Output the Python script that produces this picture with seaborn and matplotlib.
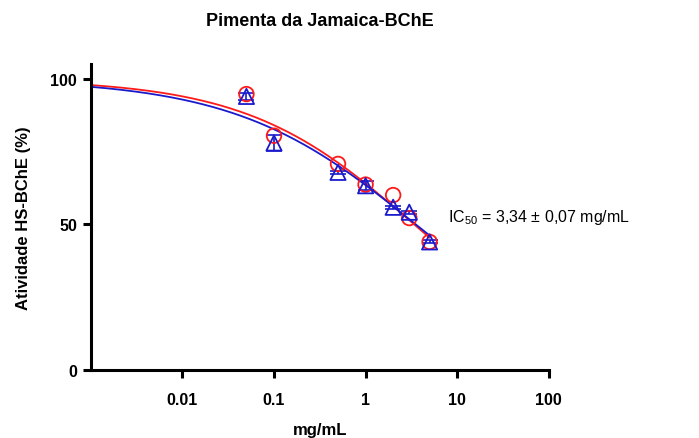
import numpy as np
import pandas as pd
import matplotlib
matplotlib.use("Agg")
import matplotlib.pyplot as plt
import seaborn as sns

# ---- data ----
conc = [0.05, 0.1, 0.5, 1, 2, 3, 5]                      # mg/mL
red_vals = [94.8, 80.5, 70.8, 63.7, 60.1, 52.2, 44.0]    # circles
blue_vals = [94.0, 78.0, 67.9, 63.3, 55.9, 54.2, 44.0]   # triangles
blue_err = [1.2, 2.6, 0.5, 1.5, 0.5, 0.5, 0.5]

# fitted dose-response parameters (top, bottom, IC50, hill)
red_fit = [100.0, 0.0, 3.40, 0.4726]
blue_fit = [100.0, 0.0, 3.54, 0.4386]
curve_range = [0.001, 5.0]

xticks = [0.01, 0.1, 1, 10, 100]
xtick_labels = ["0.01", "0.1", "1", "10", "100"]
yticks = [0, 50, 100]

title = "Pimenta da Jamaica-BChE"
xlabel = "mg/mL"
ylabel = "Atividade HS-BChE (%)"
annot = "IC$_{50}$ = 3,34 ± 0,07 mg/mL"

sns.set_style("ticks")
plt.rcParams["font.family"] = ["Liberation Sans", "DejaVu Sans"]
plt.rcParams["mathtext.fontset"] = "custom"
plt.rcParams["mathtext.rm"] = "Liberation Sans"
plt.rcParams["text.color"] = "black"
plt.rcParams["axes.labelcolor"] = "black"
plt.rcParams["xtick.color"] = "black"
plt.rcParams["ytick.color"] = "black"
plt.rcParams["axes.edgecolor"] = "black"

fig = plt.figure(figsize=(6.99, 4.39), dpi=100)
ax = fig.add_axes([0.130, 0.155, 0.655, 0.696])

xs = np.logspace(np.log10(curve_range[0]), np.log10(curve_range[1]), 300)

def curve(p):
    top, bot, ic, h = p
    return bot + (top - bot) / (1 + (xs / ic) ** h)

cdf = pd.concat([
    pd.DataFrame({"x": xs, "y": curve(red_fit), "s": "red"}),
    pd.DataFrame({"x": xs, "y": curve(blue_fit), "s": "blue"}),
])
sns.lineplot(data=cdf, x="x", y="y", hue="s", palette={"red": "#ff1a1a", "blue": "#1a1acc"},
             linewidth=1.3, legend=False, ax=ax, sort=False, estimator=None)

ax.errorbar(conc, blue_vals, yerr=blue_err, fmt="none", ecolor="#1a1acc",
            elinewidth=1.2, capsize=6, capthick=1.2, zorder=3)
sns.scatterplot(x=conc, y=red_vals, marker="o", s=110, facecolor="none",
                edgecolor="#ff1a1a", linewidth=1.3, ax=ax, zorder=4)
sns.scatterplot(x=conc, y=blue_vals, marker="^", s=120, facecolor="none",
                edgecolor="#1a1acc", linewidth=1.3, ax=ax, zorder=5)

ax.set_xscale("log")
ax.set_xlim(0.001, 100)
ax.set_ylim(0, 105)
ax.set_xticks(xticks)
ax.set_xticklabels(xtick_labels)
ax.minorticks_off()
ax.set_yticks(yticks)
for lab in ax.get_xticklabels() + ax.get_yticklabels():
    lab.set_fontweight("bold")
    lab.set_fontsize(11.5)
ax.tick_params(axis="both", length=6, width=2.2, color="black", labelcolor="black")
ax.tick_params(axis="x", pad=10)
ax.tick_params(axis="y", pad=4)
for sp in ["left", "bottom"]:
    ax.spines[sp].set_linewidth(2.2)
sns.despine(ax=ax)

ax.set_xlabel(xlabel, fontsize=12, fontweight="bold", labelpad=11)
ax.set_ylabel(ylabel, fontsize=12, fontweight="bold", labelpad=14)
fig.suptitle(title, x=0.458, y=0.97, fontsize=13, fontweight="bold")

fig.text(0.641, 0.505, annot, fontsize=11.5, ha="left", va="center")

fig.savefig("out.png", dpi=100)
